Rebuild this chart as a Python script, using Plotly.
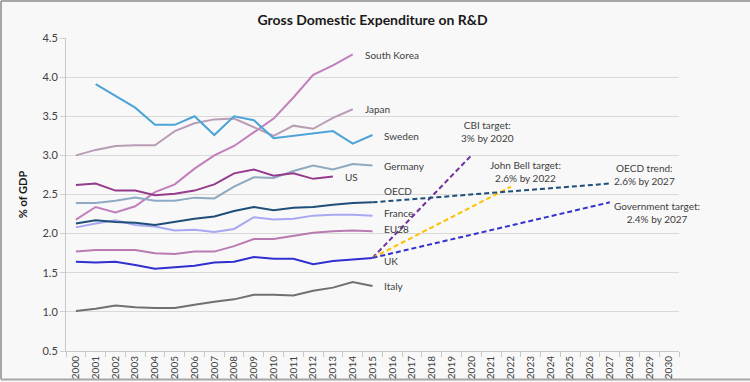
import plotly.graph_objects as go

categories = [str(y) for y in range(2000, 2031)]
hist_years = [str(y) for y in range(2000, 2016)]

south_korea = [2.18, 2.34, 2.27, 2.35, 2.53, 2.63, 2.83, 3.00, 3.12, 3.29, 3.47, 3.74, 4.03, 4.15, 4.29, None]
japan = [3.00, 3.07, 3.12, 3.13, 3.13, 3.31, 3.41, 3.46, 3.47, 3.36, 3.25, 3.38, 3.34, 3.48, 3.59, None]
sweden = [None, 3.91, None, 3.61, 3.39, 3.39, 3.50, 3.26, 3.50, 3.45, 3.22, 3.25, 3.28, 3.31, 3.15, 3.26]
germany = [2.39, 2.39, 2.42, 2.46, 2.42, 2.42, 2.46, 2.45, 2.60, 2.72, 2.71, 2.80, 2.87, 2.82, 2.89, 2.87]
us = [2.62, 2.64, 2.55, 2.55, 2.49, 2.51, 2.55, 2.63, 2.77, 2.82, 2.74, 2.77, 2.70, 2.73, None, None]
oecd = [2.13, 2.17, 2.15, 2.14, 2.11, 2.15, 2.19, 2.22, 2.29, 2.34, 2.30, 2.33, 2.34, 2.37, 2.39, 2.40]
france = [2.08, 2.13, 2.17, 2.11, 2.09, 2.04, 2.05, 2.02, 2.06, 2.21, 2.18, 2.19, 2.23, 2.24, 2.24, 2.23]
eu28 = [1.77, 1.79, 1.79, 1.79, 1.75, 1.74, 1.77, 1.77, 1.84, 1.93, 1.93, 1.97, 2.01, 2.03, 2.04, 2.03]
uk = [1.64, 1.63, 1.64, 1.60, 1.55, 1.57, 1.59, 1.63, 1.64, 1.70, 1.68, 1.68, 1.61, 1.65, 1.67, 1.69]
italy = [1.01, 1.04, 1.08, 1.06, 1.05, 1.05, 1.09, 1.13, 1.16, 1.22, 1.22, 1.21, 1.27, 1.31, 1.38, 1.33]

cbi_years = ["2015", "2020"]
cbi_values = [1.69, 3.0]
bell_years = ["2015", "2022"]
bell_values = [1.69, 2.6]
oecd_trend_years = ["2015", "2027"]
oecd_trend_values = [2.40, 2.64]
gov_years = ["2015", "2027"]
gov_values = [1.69, 2.4]

FONT = "Lato"
TXT = "#404040"

fig = go.Figure()

series = [
    ("South Korea", south_korea, "#c27fbd"),
    ("Japan", japan, "#b89db5"),
    ("Sweden", sweden, "#4ca3d8"),
    ("Germany", germany, "#8eaac2"),
    ("US", us, "#963b8c"),
    ("France", france, "#a8a8f2"),
    ("EU28", eu28, "#b97ab1"),
    ("OECD", oecd, "#1f4e79"),
    ("UK", uk, "#3030d0"),
    ("Italy", italy, "#707070"),
]
for name, vals, col in series:
    fig.add_trace(go.Scatter(x=hist_years, y=vals, mode="lines", name=name,
                             line=dict(color=col, width=2), connectgaps=True))

proj = [
    ("CBI target", cbi_years, cbi_values, "#7030a0"),
    ("John Bell target", bell_years, bell_values, "#ffc000"),
    ("OECD trend", oecd_trend_years, oecd_trend_values, "#1f4e79"),
    ("Government target", gov_years, gov_values, "#3333cc"),
]
for name, xs, ys, col in proj:
    fig.add_trace(go.Scatter(x=xs, y=ys, mode="lines", name=name,
                             line=dict(color=col, width=2, dash="5px,3px")))

labels = [
    ("South Korea", 14.5, 4.28),
    ("Japan", 14.5, 3.59),
    ("Sweden", 15.47, 3.25),
    ("Germany", 15.47, 2.86),
    ("US", 13.5, 2.72),
    ("OECD", 15.47, 2.55),
    ("France", 15.47, 2.27),
    ("EU28", 15.47, 2.06),
    ("UK", 15.47, 1.65),
    ("Italy", 15.47, 1.33),
]
for t, x, y in labels:
    fig.add_annotation(x=x, y=y, text=t, showarrow=False, xanchor="left", yanchor="middle",
                       font=dict(family=FONT, size=10, color=TXT))

targets = [
    ("CBI target:<br>3% by 2020", 20.8, 3.31),
    ("John Bell target:<br>2.6% by 2022", 22.72, 2.80),
    ("OECD trend:<br>2.6% by 2027", 28.74, 2.76),
    ("Government target:<br>2.4% by 2027", 29.38, 2.27),
]
for t, x, y in targets:
    fig.add_annotation(x=x, y=y, text=t, showarrow=False, xanchor="center", yanchor="middle",
                       align="center", font=dict(family=FONT, size=10, color=TXT))

L, R, T, B = 66, 71, 38, 31
W, H = 750, 382
pw, ph = W - L - R, H - T - B
# frame lines (left, top, bottom) around the whole picture
fx0, fx1 = -(L - 1) / pw, 1 + R / pw
fy0, fy1 = -(B - 2.5) / ph, 1 + (T - 1) / ph
for x0, y0, x1, y1 in [(fx0, fy0, fx0, fy1), (fx0, fy1, fx1, fy1), (fx0, fy0, fx1, fy0)]:
    fig.add_shape(type="line", xref="paper", yref="paper", x0=x0, y0=y0, x1=x1, y1=y1,
                  line=dict(color="#a6a6a6", width=2), layer="below")

fig.update_layout(
    width=W, height=H,
    margin=dict(l=L, r=R, t=T, b=B, autoexpand=False),
    paper_bgcolor="#f8f8f8", plot_bgcolor="#f8f8f8",
    showlegend=False,
    title=dict(text="<b>Gross Domestic Expenditure on R&D</b>", x=0.5, xref="paper",
               y=1 - 20 / H, yanchor="middle",
               font=dict(family=FONT, size=14, color="#1a1a1a")),
    font=dict(family=FONT, color=TXT),
)
fig.update_xaxes(type="category", categoryorder="array", categoryarray=categories,
                 range=[-0.5, 30.5], tickvals=categories, ticktext=categories,
                 tickangle=-90, tickson="boundaries", ticks="outside", ticklen=5,
                 tickcolor="#c8c8c8", showgrid=False, showline=True, linecolor="#c8c8c8",
                 linewidth=1, tickfont=dict(family=FONT, size=10, color=TXT), zeroline=False,
                 automargin=False)
fig.update_yaxes(range=[0.5, 4.5], dtick=0.5, tick0=0.5, tickformat=".1f",
                 showgrid=True, gridcolor="#d9d9d9", gridwidth=1, ticks="outside", ticklen=5,
                 tickcolor="#d0d0d0", showline=True, linecolor="#c8c8c8", zeroline=False,
                 tickfont=dict(family=FONT, size=11, color=TXT), automargin=False,
                 title=dict(text="<b>% of GDP</b>", font=dict(family=FONT, size=11, color="#1a1a1a"),
                            standoff=12))

fig.write_html("out.html", config={"displayModeBar": False},
               post_script="document.body.style.margin='0px';document.body.style.overflow='hidden';")
